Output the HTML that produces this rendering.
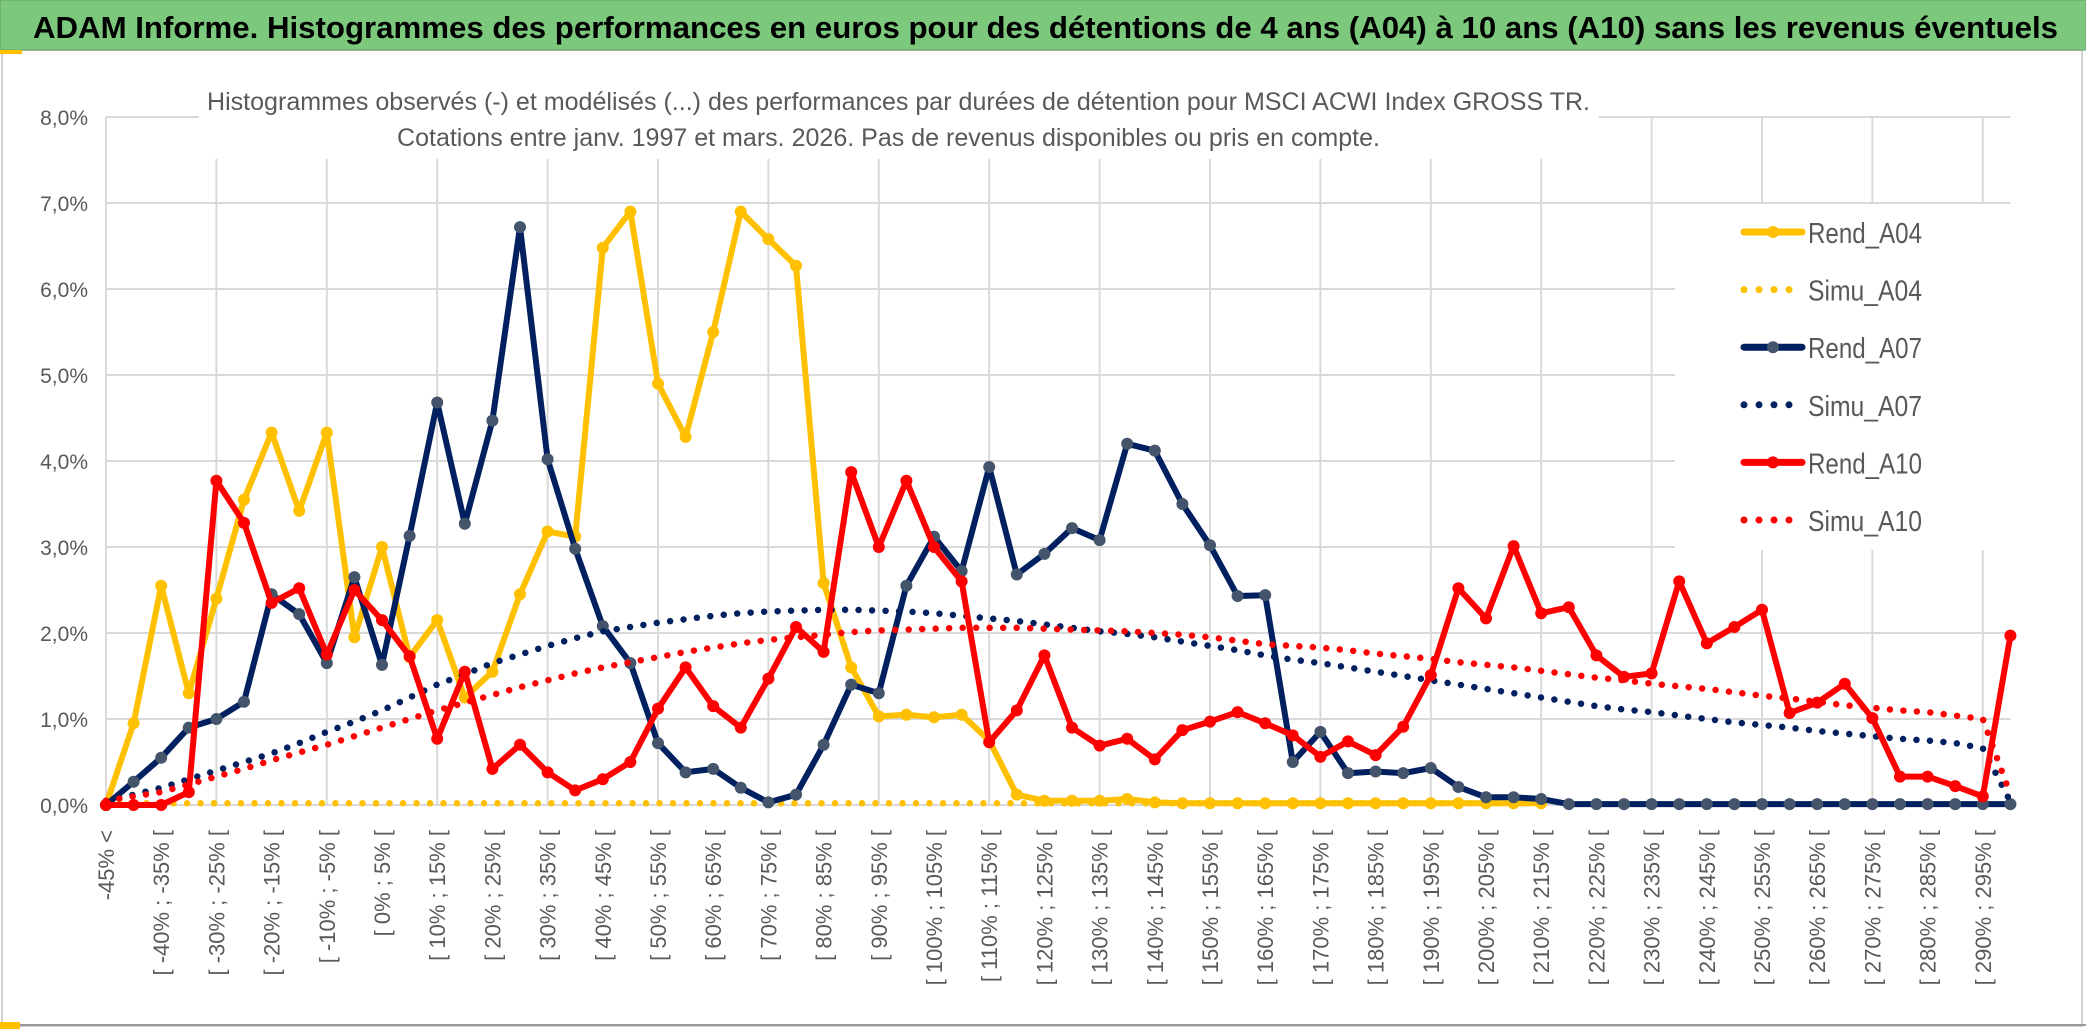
<!DOCTYPE html>
<html><head><meta charset="utf-8"><style>
html,body{margin:0;padding:0;background:#fff;}
svg{display:block;font-family:"Liberation Sans",sans-serif;}
</style></head><body>
<svg id="chart" width="2086" height="1031" viewBox="0 0 2086 1031" xmlns="http://www.w3.org/2000/svg">
<rect x="0" y="0" width="2086" height="1031" fill="#fff"/>
<rect x="2" y="50" width="2080" height="976" fill="#fff" stroke="#d0d0d0" stroke-width="2"/>
<rect x="0" y="0" width="2086" height="50" fill="#7cc97e" stroke="#6a9a6b" stroke-width="1"/>
<rect x="0" y="50" width="22" height="4" fill="#ffc000"/>
<text x="33" y="38" font-size="31" font-weight="bold" fill="#000" textLength="2025" lengthAdjust="spacingAndGlyphs">ADAM Informe. Histogrammes des performances en euros pour des détentions de 4 ans (A04) à 10 ans (A10) sans les revenus éventuels</text>
<g id="grid"></g>
<g id="yaxis"></g>
<g id="xaxis"></g>
<rect x="199" y="62" width="1400" height="97" fill="#fff"/>
<text x="207" y="110" font-size="25" fill="#595959" textLength="1383" lengthAdjust="spacingAndGlyphs">Histogrammes observés (-) et modélisés (...) des performances par durées de détention pour MSCI ACWI Index GROSS TR.</text>
<text x="397" y="146" font-size="25" fill="#595959" textLength="983" lengthAdjust="spacingAndGlyphs">Cotations entre janv. 1997 et mars. 2026. Pas de revenus disponibles ou pris en compte.</text>
<g id="series"></g>
<g id="legend"></g>
<rect x="0" y="1024" width="2086" height="2" fill="#999"/>
<rect x="0" y="1022" width="20" height="7" fill="#ffc000"/>
</svg>
<script>
const yTicks = [0,1,2,3,4,5,6,7,8];
const yTickLabels = ["0,0%","1,0%","2,0%","3,0%","4,0%","5,0%","6,0%","7,0%","8,0%"];
const categoryStarts = [];
for (let i = 0; i < 70; i++) categoryStarts.push(i === 0 ? null : -45 + 5 * (i - 1));
const rendA04 = [0,0.95,2.55,1.3,2.4,3.55,4.33,3.42,4.33,1.95,3.0,1.72,2.15,1.25,1.55,2.45,3.18,3.12,6.48,6.9,4.9,4.28,5.5,6.9,6.58,6.27,2.58,1.6,1.03,1.05,1.02,1.05,0.75,0.12,0.05,0.05,0.05,0.07,0.03,0.02,0.02,0.02,0.02,0.02,0.02,0.02,0.02,0.02,0.02,0.02,0.02,0.02,0.02];
const simuA04 = [0.02,0.02,0.02,0.02,0.02,0.02,0.02,0.02,0.02,0.02,0.02,0.02,0.02,0.02,0.02,0.02,0.02,0.02,0.02,0.02,0.02,0.02,0.02,0.02,0.02,0.02,0.02,0.02,0.02,0.02,0.02,0.02,0.02,0.02,0.02,0.02,0.02,0.02,0.02,0.02,0.02,0.02,0.02,0.02,0.02,0.02,0.02,0.02,0.02,0.02,0.02,0.02,0.02];
const rendA07 = [0,0.27,0.55,0.9,1.0,1.2,2.45,2.22,1.65,2.65,1.63,3.13,4.68,3.27,4.47,6.72,4.02,2.98,2.08,1.65,0.72,0.38,0.42,0.2,0.03,0.12,0.7,1.4,1.3,2.55,3.12,2.72,3.93,2.68,2.92,3.22,3.08,4.2,4.12,3.5,3.02,2.43,2.44,0.5,0.85,0.37,0.39,0.37,0.43,0.21,0.09,0.09,0.07,0.01,0.01,0.01,0.01,0.01,0.01,0.01,0.01,0.01,0.01,0.01,0.01,0.01,0.01,0.01,0.01,0.01];
const simuA07 = [0.05,0.12,0.2,0.3,0.4,0.5,0.6,0.72,0.85,0.97,1.1,1.25,1.4,1.52,1.65,1.75,1.85,1.94,2.02,2.07,2.12,2.16,2.2,2.23,2.25,2.26,2.27,2.27,2.26,2.25,2.23,2.2,2.17,2.14,2.1,2.06,2.02,1.99,1.95,1.9,1.85,1.8,1.74,1.69,1.65,1.6,1.55,1.5,1.45,1.4,1.35,1.3,1.25,1.2,1.15,1.11,1.08,1.04,1.0,0.96,0.93,0.9,0.86,0.83,0.8,0.77,0.75,0.72,0.66,0.04];
const rendA10 = [0,0,0,0.15,3.77,3.28,2.35,2.52,1.75,2.5,2.15,1.73,0.77,1.55,0.42,0.7,0.38,0.17,0.3,0.5,1.12,1.6,1.15,0.9,1.47,2.07,1.78,3.87,3.0,3.77,3.0,2.6,0.73,1.1,1.74,0.9,0.69,0.77,0.53,0.87,0.97,1.08,0.95,0.81,0.56,0.74,0.58,0.91,1.51,2.52,2.17,3.01,2.23,2.3,1.74,1.49,1.53,2.6,1.88,2.07,2.27,1.07,1.19,1.41,1.01,0.33,0.33,0.22,0.1,1.97];
const simuA10 = [0.05,0.1,0.15,0.24,0.33,0.42,0.52,0.61,0.7,0.8,0.9,1.0,1.1,1.19,1.28,1.37,1.45,1.53,1.6,1.66,1.72,1.78,1.83,1.88,1.92,1.95,1.98,2.01,2.03,2.04,2.05,2.06,2.06,2.06,2.05,2.04,2.03,2.02,2.0,1.98,1.95,1.91,1.87,1.85,1.83,1.8,1.76,1.73,1.7,1.66,1.63,1.6,1.56,1.52,1.48,1.45,1.41,1.38,1.35,1.31,1.27,1.24,1.2,1.16,1.13,1.1,1.08,1.04,1.0,0.12];
const seriesNames = ["Rend_A04","Simu_A04","Rend_A07","Simu_A07","Rend_A10","Simu_A10"];

const NS = "http://www.w3.org/2000/svg";
const X0 = 106, DX = 27.6, Y0 = 805, DY = 86;
function xPos(i){ return X0 + i * DX; }
function yPos(v){ return Y0 - v * DY; }
function mk(tag, attrs, parent){ const e = document.createElementNS(NS, tag); for (const k in attrs) e.setAttribute(k, attrs[k]); parent.appendChild(e); return e; }

const grid = document.getElementById('grid');
const xRight = xPos(categoryStarts.length - 1);
yTicks.forEach((t) => {
  const l = mk('line', {x1: X0, x2: xRight, y1: yPos(t), y2: yPos(t), stroke: '#d9d9d9', 'stroke-width': 2}, grid);
  
  
});
for (let i = 0; i < categoryStarts.length; i += 4) {
  const l = mk('line', {x1: xPos(i), x2: xPos(i), y1: yPos(8), y2: Y0, stroke: '#d9d9d9', 'stroke-width': 2}, grid);
  
  
}
const yaxis = document.getElementById('yaxis');
yTicks.forEach((t, k) => {
  const tx = mk('text', {x: 88, y: yPos(t) + 8, 'text-anchor': 'end', 'font-size': 21, fill: '#595959'}, yaxis);
  tx.textContent = yTickLabels[k];
  
  
});
const xaxis = document.getElementById('xaxis');
for (let i = 0; i < categoryStarts.length; i += 2) {
  const s = categoryStarts[i];
  const label = s === null ? '-45% <' : '[ ' + s + '% ; ' + (s + 5) + '% [';
  const px = xPos(i) + 8;
  const tx = mk('text', {x: px, y: 830, 'text-anchor': 'end', 'font-size': 22, fill: '#595959', transform: 'rotate(-90 ' + px + ' 830)'}, xaxis);
  tx.textContent = label;
  
  
}

const series = document.getElementById('series');
function pts(arr){ return arr.map((v, i) => xPos(i).toFixed(1) + ',' + yPos(v).toFixed(1)).join(' '); }
function dotted(arr, color, name){
  const p = mk('polyline', {points: pts(arr), fill: 'none', stroke: color, 'stroke-width': 6.5, 'stroke-dasharray': '0 13.5', 'stroke-linecap': 'round', 'stroke-linejoin': 'round'}, series);
  
  
}
function solid(arr, color, mcolor, name){
  const g = mk('g', {}, series);
  
  
  const p = mk('polyline', {points: pts(arr), fill: 'none', stroke: color, 'stroke-width': 6, 'stroke-linejoin': 'round'}, g);
  
  
  arr.forEach((v, i) => {
    const c = mk('circle', {cx: xPos(i), cy: yPos(v), r: 6, fill: mcolor}, g);
    
    
  });
}
dotted(simuA04, '#ffc000', 'simu-a04-line');
solid(rendA04, '#ffc000', '#ffc000', 'rend-a04-series');
solid(rendA07, '#002060', '#44546a', 'rend-a07-series');
dotted(simuA07, '#002060', 'simu-a07-line');
solid(rendA10, '#ff0000', '#ff0000', 'rend-a10-series');
dotted(simuA10, '#ff0000', 'simu-a10-line');

const legend = document.getElementById('legend');
mk('rect', {x: 1675, y: 204, width: 337, height: 346, fill: '#fff'}, legend);
const lcol = ['#ffc000','#ffc000','#002060','#002060','#ff0000','#ff0000'];
const lmk = ['#ffc000',null,'#44546a',null,'#ff0000',null];
seriesNames.forEach((n, k) => {
  const y = 232 + k * 57.6;
  const g = mk('g', {}, legend);
  
  
  if (lmk[k]) {
    mk('line', {x1: 1744, x2: 1802, y1: y, y2: y, stroke: lcol[k], 'stroke-width': 7, 'stroke-linecap': 'round'}, g);
    mk('circle', {cx: 1773, cy: y, r: 6, fill: lmk[k]}, g);
  } else {
    mk('line', {x1: 1744, x2: 1802, y1: y, y2: y, stroke: lcol[k], 'stroke-width': 7, 'stroke-dasharray': '0 15', 'stroke-linecap': 'round'}, g);
  }
  const t = mk('text', {x: 1808, y: y + 11, 'font-size': 29, fill: '#595959', textLength: 114, lengthAdjust: 'spacingAndGlyphs'}, g);
  t.textContent = n;
});
</script>
</body></html>
